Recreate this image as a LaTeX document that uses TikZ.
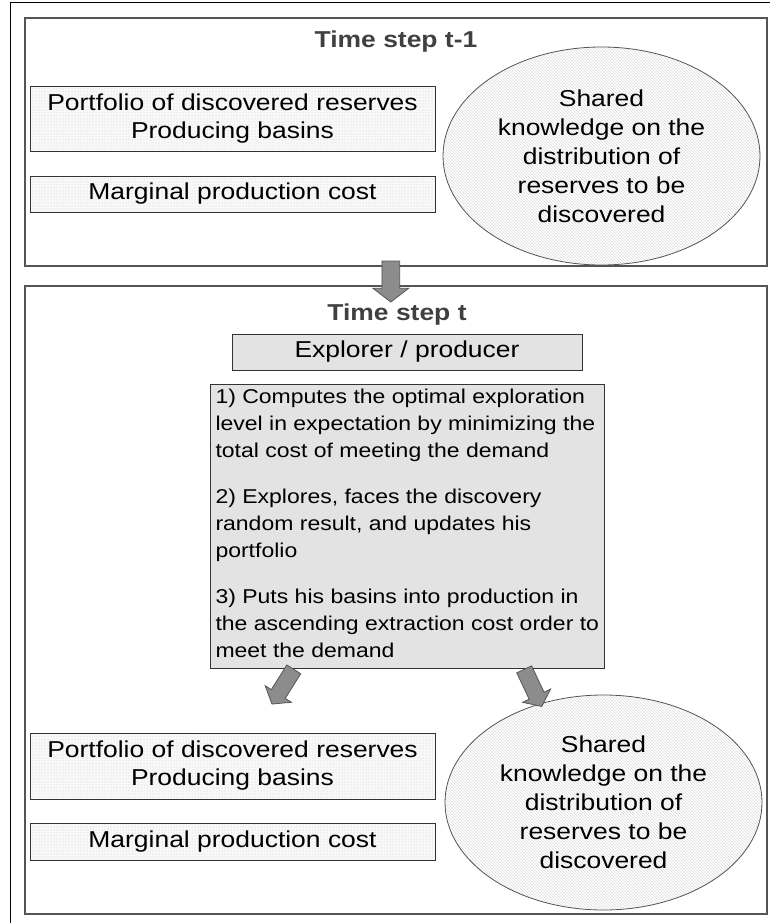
\documentclass[tikz,border=0pt]{standalone}
\usepackage{fontspec}
\setmainfont[FakeStretch=1.15]{Liberation Sans}
\usetikzlibrary{shapes.geometric,shapes.arrows,patterns}

\definecolor{framegray}{rgb}{0.33,0.33,0.33}
\definecolor{titlegray}{rgb}{0.25,0.25,0.25}
\definecolor{boxgray}{rgb}{0.89,0.89,0.89}
\definecolor{arrowgray}{rgb}{0.55,0.55,0.55}

\tikzset{
    stepframe/.style={draw=framegray, line width=1.6pt, minimum width=742pt, inner sep=0pt, anchor=north west},
    steptitle/.style={font=\bfseries\fontsize{23}{28}\selectfont, text=titlegray},
    infobox/.style={draw=black!80, line width=1pt, preaction={fill=gray!5}, pattern=dots, pattern color=gray!45,
        minimum width=405pt, align=center, inner sep=0pt, font=\fontsize{23}{28}\selectfont},
    knowledge/.style={ellipse, draw=framegray, line width=0.8pt, pattern=north west lines,
        pattern color=gray!28, minimum width=317pt, align=center, inner sep=0pt,
        font=\fontsize{23}{29}\selectfont},
    rolebox/.style={draw=black!80, line width=1pt, fill=boxgray, minimum width=350pt,
        minimum height=36pt, font=\fontsize{23}{28}\selectfont},
    taskbox/.style={draw=black!80, line width=1pt, fill=boxgray, inner sep=5pt},
    blockarrow/.style={single arrow, draw=framegray, fill=arrowgray, line width=0.8pt,
        inner xsep=0pt, minimum height=41pt, single arrow tip angle=105, anchor=tail}
}

\begin{document}
\begin{tikzpicture}[x=1pt, y=-1pt]
    \useasboundingbox (0,0) rectangle (770,923);
    \clip (0,0) rectangle (770,923);
    \draw[line width=1pt] (10,940) -- (10,3) -- (790,3);
    % time step t-1
    \node[stepframe, minimum height=248pt] (frame1) at (24,17) {};
    \node[steptitle] (title1) at (396,42) {Time step t-1};
    \node[infobox, minimum height=64pt] (port1) at (232.5,119) {Portfolio of discovered reserves\\Producing basins};
    \node[infobox, minimum height=36pt] (marg1) at (232.5,194) {Marginal production cost};
    \node[knowledge, minimum height=218pt] (know1) at (601.5,156) {Shared\\knowledge on the\\distribution of\\reserves to be\\discovered};
    % time step t
    \node[stepframe, minimum height=628pt] (frame2) at (24,285) {};
    \node[steptitle] (title2) at (397,315) {Time step t};
    \node[rolebox] (role) at (407,352) {Explorer / producer};
    \node[taskbox, anchor=north west] (tasks) at (210,384) {\parbox[t][274pt][t]{384pt}{%
        \fontsize{20}{27}\selectfont\raggedright
        1) Computes the optimal exploration\\
        level in expectation by minimizing the\\
        total cost of meeting the demand\\[19pt]
        2) Explores, faces the discovery\\
        random result, and updates his\\
        portfolio\\[19pt]
        3) Puts his basins into production in\\
        the ascending extraction cost order to\\
        meet the demand}};
    \node[infobox, minimum height=66pt] (port2) at (232.5,766) {Portfolio of discovered reserves\\Producing basins};
    \node[infobox, minimum height=37pt] (marg2) at (232.5,841.5) {Marginal production cost};
    \node[knowledge, minimum height=215pt] (know2) at (603.5,802.5) {Shared\\knowledge on the\\distribution of\\reserves to be\\discovered};
    % block arrows
    \node[blockarrow, inner ysep=8.5pt, minimum width=35pt, single arrow head extend=9pt, rotate=-90] (next) at ([xshift=-5pt, yshift=6pt]frame1.south) {};
    \node[blockarrow, inner ysep=7.5pt, minimum width=31pt, single arrow head extend=7pt, rotate=-122.2] (toport) at ([xshift=84pt]tasks.south west) {};
    \node[blockarrow, inner ysep=7.5pt, minimum width=31pt, single arrow head extend=7pt, rotate=-64.7] (toknow) at ([xshift=-81pt]tasks.south east) {};
\end{tikzpicture}
\end{document}
